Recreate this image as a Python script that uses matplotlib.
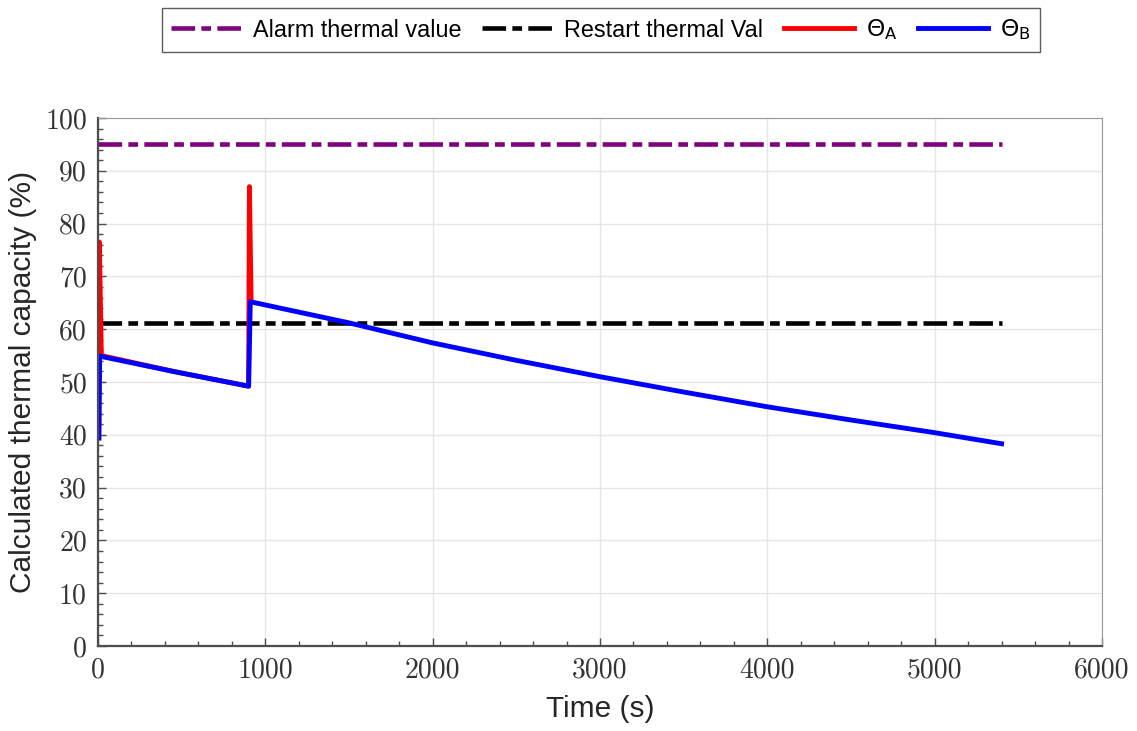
import matplotlib
matplotlib.use("Agg")
import matplotlib.pyplot as plt
from matplotlib.ticker import MultipleLocator

plt.rcParams["lines.scale_dashes"] = False

# time (s) and thermal capacity (%)
t_blue = [5, 10, 450, 900, 910, 1500, 2000, 2500, 3000, 3500, 4000, 4500, 5000, 5400]
theta_b = [39.4, 54.9, 52.0, 49.2, 65.2, 61.2, 57.4, 54.1, 51.0, 48.1, 45.3, 42.8, 40.4, 38.3]

t_red = [5, 8, 20, 450, 900, 905, 915]
theta_a = [39.4, 76.5, 55.0, 52.0, 49.2, 87.0, 65.2]

t_limits = [0, 5400]
alarm_val = [95.0, 95.0]
restart_val = [61.2, 61.2]

fig = plt.figure(figsize=(11.37, 7.31), dpi=100)
ax = fig.add_axes([0.0862, 0.1163, 0.883, 0.7223])

dashdot = [17, 4.5, 7, 4.5]
l1, = ax.plot(t_limits, alarm_val, color="#7f007f", lw=3.3, dashes=dashdot,
              label="Alarm thermal value")
l2, = ax.plot(t_limits, restart_val, color="black", lw=3.3, dashes=dashdot,
              label="Restart thermal Val")
l3, = ax.plot(t_red, theta_a, color="#ff0000", lw=3.5, label=r"$\Theta_{\mathsf{A}}$")
l4, = ax.plot(t_blue, theta_b, color="#0000ff", lw=3.5, label=r"$\Theta_{\mathsf{B}}$")

ax.set_xlim(0, 6000)
ax.set_ylim(0, 100)
ax.xaxis.set_major_locator(MultipleLocator(1000))
ax.xaxis.set_minor_locator(MultipleLocator(200))
ax.yaxis.set_major_locator(MultipleLocator(10))
ax.yaxis.set_minor_locator(MultipleLocator(2))
ax.grid(True, which="major", color="#e6e6e6", lw=1.0)
ax.set_axisbelow(True)

ax.tick_params(which="both", direction="in", top=False, right=False, colors="#4d4d4d")
ax.tick_params(which="major", length=6, width=1.0, labelsize=20, pad=8)
ax.tick_params(which="minor", length=3.5, width=1.0)
for lab in ax.get_xticklabels() + ax.get_yticklabels():
    lab.set_family("cmr10")
    lab.set_color("#333333")

for side in ["left", "bottom"]:
    ax.spines[side].set_color("#4d4d4d")
    ax.spines[side].set_linewidth(1.6)
for side in ["top", "right"]:
    ax.spines[side].set_color("#999999")
    ax.spines[side].set_linewidth(0.8)

ax.set_xlabel("Time (s)", family="Liberation Sans", fontsize=21.5, color="#262626", labelpad=8)
ax.set_ylabel("Calculated thermal capacity (%)", family="Liberation Sans", fontsize=21.5,
              color="#262626", labelpad=6)

leg = fig.legend(handles=[l1, l2, l3, l4], loc="center", bbox_to_anchor=(0.5286, 0.959),
                 ncol=4, frameon=True, fancybox=False, edgecolor="#333333",
                 prop={"family": "Liberation Sans", "size": 16.8}, handlelength=3.0,
                 columnspacing=0.9, handletextpad=0.5, borderpad=0.4)
leg.get_frame().set_linewidth(1.0)

fig.savefig("out.png", dpi=100)
